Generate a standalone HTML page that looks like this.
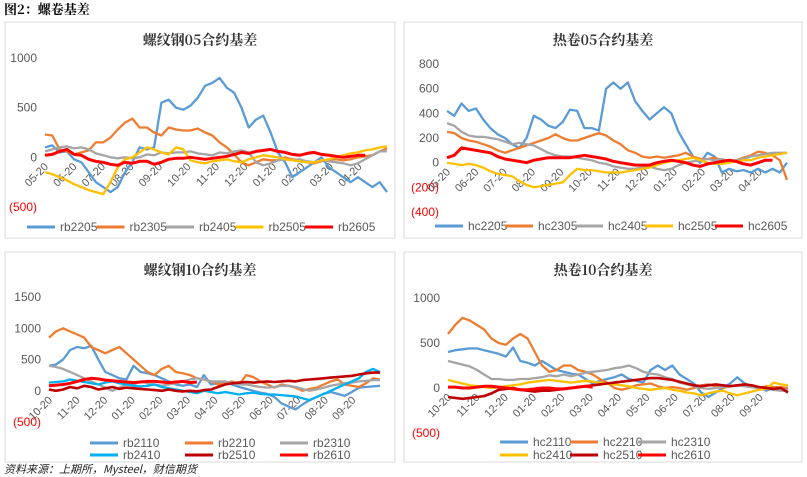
<!DOCTYPE html>
<html><head><meta charset="utf-8"><style>
body{margin:0;background:#fff;}
svg{display:block;font-family:"Liberation Sans","Noto Sans CJK SC",sans-serif;}
</style></head><body>
<svg id="c" width="807" height="477" viewBox="0 0 807 477">
<text x="4" y="14" font-size="13" font-weight="bold" fill="#000" font-family="'Noto Serif CJK SC','Noto Sans CJK SC',serif">图2：螺卷基差</text>
<text x="4" y="473" font-size="11" font-style="italic" fill="#222" font-family="'Noto Sans CJK SC',sans-serif">资料来源：上期所，Mysteel，财信期货</text>
</svg>
<script>
const monthsA=["05-20","06-20","07-20","08-20","09-20","10-20","11-20","12-20","01-20","02-20","03-20","04-20"];
const monthsB=["10-20","11-20","12-20","01-20","02-20","03-20","04-20","05-20","06-20","07-20","08-20","09-20"];
const rb2205=[100,120,50,60,-20,-50,-150,-250,-300,-350,-300,-150,-50,100,80,100,550,580,500,480,520,600,720,750,800,700,650,500,300,380,420,250,50,-50,-200,-150,-100,-50,0,-100,-150,-200,-250,-200,-250,-300,-250,-350];
const rb2305=[230,220,80,60,30,50,70,150,150,200,280,350,390,300,300,250,220,300,280,270,270,290,250,220,150,100,30,-50,-80,-50,-20,-30,-30,0,-20,-30,-50,-60,-40,-20,-20,-30,-20,0,10,20,60,90];
const rb2405=[60,80,100,110,90,100,80,40,20,0,-10,0,-10,0,30,20,50,40,50,50,60,40,30,20,50,40,60,70,50,-50,-80,-60,-30,-20,-30,-20,-40,-50,-30,-40,-50,-60,-80,-60,-20,20,60,60];
const rb2505=[-150,-170,-200,-230,-270,-300,-330,-350,-370,-250,-100,-20,0,50,100,80,50,30,100,80,-30,-50,-60,-40,-30,-20,-40,-50,-20,0,20,10,0,-20,-30,-40,-50,-50,-30,-20,0,20,40,50,70,80,100,110];
const rb2605=[20,30,60,80,30,20,-20,-40,-50,-70,-80,-50,-60,-40,-40,-70,-50,-20,-10,-10,0,-10,-20,-10,0,10,30,50,40,60,70,80,60,50,30,20,40,50,30,20,10,0,10,20,20,null,null,null];
const hc2205=[420,380,480,420,440,350,280,230,200,150,120,200,380,350,300,280,330,430,420,280,280,260,600,650,600,650,500,420,350,400,450,400,250,150,50,0,80,50,-80,-50,-70,-60,-80,-50,-80,-50,-80,0];
const hc2305=[250,240,200,180,170,150,130,100,80,100,120,140,160,180,200,230,200,180,180,200,220,240,220,180,150,100,80,50,40,50,40,50,60,80,50,30,30,40,20,10,20,40,60,90,80,60,20,-140];
const hc2405=[320,300,250,220,210,210,200,190,170,150,160,150,140,110,80,60,50,50,40,30,20,0,-10,-30,-40,-50,-50,-40,-30,-50,-60,-50,-20,0,10,20,30,20,30,10,20,30,50,60,70,80,80,80];
const hc2505=[0,-10,-20,-10,-20,-40,-70,-90,-100,-110,-150,-180,-200,-190,-180,-170,-160,-100,-50,-60,-60,-70,-80,-80,-80,-70,-60,-50,-40,-20,0,10,20,30,40,20,0,-10,-10,0,10,20,20,40,50,60,70,80];
const hc2605=[40,60,120,110,100,90,80,50,30,20,10,0,20,30,40,40,40,40,50,60,50,40,30,10,0,-10,-20,-20,-20,0,10,20,10,0,-20,-30,-10,0,10,20,10,-10,-20,0,20,20,null,null];
const rb2110=[400,420,500,650,700,680,720,500,300,250,200,180,400,300,280,250,200,150,100,80,100,60,250,100,120,150,100,60,30,0,-30,-50,-100,-200,-250,-300,-220,-150,-100,-50,-20,-50,-80,-20,50,60,70,80];
const rb2210=[850,950,1000,950,900,850,700,650,600,650,700,600,500,400,300,250,350,400,300,280,250,200,180,150,100,120,150,100,250,220,150,100,50,100,80,50,0,30,50,100,150,180,100,80,60,120,200,180];
const rb2310=[400,380,350,300,250,200,150,100,50,0,50,100,100,150,120,100,80,100,120,150,180,200,180,150,150,150,120,100,100,80,60,50,60,80,80,60,30,0,20,50,80,100,120,130,150,160,170,170];
const rb2410=[130,140,150,180,160,140,120,100,130,150,120,100,80,70,80,100,60,40,20,0,-20,-40,0,-20,-40,-20,-40,-60,-40,-30,-50,-60,-60,-70,-80,-90,-120,-150,-100,-50,0,50,100,150,200,300,350,300];
const rb2510=[20,0,20,60,40,80,60,20,40,60,30,50,40,30,20,10,0,20,0,-10,0,-10,10,20,60,100,120,130,140,130,140,150,140,150,160,150,170,180,190,200,210,220,230,240,260,280,290,290];
const rb2610=[80,90,100,120,150,180,200,190,170,160,150,140,130,140,150,150,140,130,140,150,130,140,null,null,null,null,null,null,null,null,null,null,null,null,null,null,null,null,null,null,null,null,null,null,null,null,null,null];
const hc2110=[400,420,430,440,440,420,400,380,350,450,300,280,250,300,250,200,180,160,150,100,50,80,100,120,150,100,80,60,200,250,200,250,150,100,50,-50,-100,-50,0,50,120,50,20,0,-30,0,-20,0];
const hc2210=[600,700,780,750,700,650,550,500,480,550,600,550,400,250,180,200,250,250,200,180,150,100,60,0,-20,0,30,40,50,20,0,10,0,-20,0,30,40,20,0,20,30,20,10,0,20,10,10,0];
const hc2310=[300,280,260,240,200,150,100,100,90,90,100,100,110,120,140,130,150,130,150,170,180,190,200,220,230,250,220,180,160,150,120,100,60,40,20,0,-10,0,10,20,30,20,10,0,-10,-20,-30,-30];
const hc2410=[90,70,50,30,20,10,0,10,20,30,40,60,70,80,90,80,70,60,70,80,70,60,50,40,30,20,0,-10,-20,-10,0,-20,-30,-50,-60,-80,-60,-40,-30,-60,-80,-60,-40,-20,-10,60,40,30];
const hc2510=[-100,-110,-120,-110,-100,-90,-60,-20,-10,0,-20,-30,-40,-30,-30,-20,-10,0,10,20,30,40,50,60,70,80,90,100,110,110,100,90,70,50,30,20,30,40,30,20,30,40,30,10,0,-10,0,-50];
const hc2610=[10,10,0,0,10,20,20,10,0,-10,-20,-20,-10,0,0,-10,-10,0,10,20,10,null,null,null,null,null,null,null,null,null,null,null,null,null,null,null,null,null,null,null,null,null,null,null,null,null,null,null];
const ticksA=[1000,500,0,-500];
const ticksB=[800,600,400,200,0,-200,-400];
const ticksC=[1500,1000,500,0,-500];
const ticksD=[1000,500,0,-500];

const C={blue:"#5B9BD5",orange:"#ED7D31",gray:"#A5A5A5",yellow:"#FFC000",red:"#FF0000",dred:"#C00000",cyan:"#00B0F0"};
const svg=document.getElementById('c');
const NS="http://www.w3.org/2000/svg";
function mk(t,a,p){const e=document.createElementNS(NS,t);for(const k in a)e.setAttribute(k,a[k]);(p||svg).appendChild(e);return e;}
function fmt(v){return v<0?"("+(-v)+")":String(v);}

function panel(o){
  const g=mk('g',{});
  
  
  const b=mk('rect',{x:o.box[0],y:o.box[1],width:o.box[2],height:o.box[3],fill:"#fff",stroke:"#D9D9D9"},g);
  
  
  const t=mk('text',{x:o.box[0]+o.box[2]/2,y:o.box[1]+23,"text-anchor":"middle","font-size":14,"font-weight":"bold",fill:"#333","font-family":"'Noto Serif CJK SC','Noto Sans CJK SC',serif"},g);
  t.textContent=o.title;
  
  
  const ymax=o.ticks[0],ymin=o.ticks[o.ticks.length-1];
  const y=v=>o.yTop+(ymax-v)/(ymax-ymin)*(o.yBot-o.yTop);
  const x=i=>o.x0+i/47*(o.x1-o.x0);
  o.ticks.forEach(v=>{
    const tt=mk('text',{x:o.x0-8,y:y(v)+4,"text-anchor":"end","font-size":12,fill:v<0?"#FF0000":"#595959"},g);
    tt.textContent=fmt(v);
    
    
  });
  const y0=y(0);
  o.months.forEach((m,k)=>{
    const xx=o.x0+k*(o.x1-o.x0)/12+4;
    const tt=mk('text',{x:xx,y:y0+10,"text-anchor":"end","font-size":11,fill:"#595959",transform:`rotate(-45 ${xx} ${y0+10})`},g);
    tt.textContent=m;
    
    
  });
  o.series.forEach(s=>{
    let d="",pen=false;
    s.data.forEach((v,i)=>{ if(v===null){pen=false;return;} d+=(pen?"L":"M")+x(i).toFixed(1)+" "+y(v).toFixed(1);pen=true;});
    const p=mk('path',{d:d,fill:"none",stroke:s.color,"stroke-width":s.w||2.3,"stroke-linejoin":"round"},g);
    
    
  });
  o.series.forEach((s,i)=>{
    const [lx,ly]=o.leg(i);
    const l=mk('line',{x1:lx,y1:ly,x2:lx+28,y2:ly,stroke:s.color,"stroke-width":3},g);
    
    
    const tt=mk('text',{x:lx+33,y:ly+4,"font-size":12,fill:"#595959"},g);
    tt.textContent=s.label;
    
    
  });
}
panel({name:"rb05-basis-chart",title:"螺纹钢05合约基差",box:[5,22,390,216],ticks:ticksA,yTop:58,yBot:207,x0:45,x1:387,months:monthsA,
 series:[{label:"rb2205",data:rb2205,color:C.blue},{label:"rb2305",data:rb2305,color:C.orange},{label:"rb2405",data:rb2405,color:C.gray},{label:"rb2505",data:rb2505,color:C.yellow},{label:"rb2605",data:rb2605,color:C.red,w:3}],
 leg:i=>[27+i*69.5,227]});
panel({name:"hc05-basis-chart",title:"热卷05合约基差",box:[404,22,398,216],ticks:ticksB,yTop:64,yBot:212,x0:447,x1:787,months:monthsA,
 series:[{label:"hc2205",data:hc2205,color:C.blue},{label:"hc2305",data:hc2305,color:C.orange},{label:"hc2405",data:hc2405,color:C.gray},{label:"hc2505",data:hc2505,color:C.yellow},{label:"hc2605",data:hc2605,color:C.red,w:3}],
 leg:i=>[435+i*70,226]});
panel({name:"rb10-basis-chart",title:"螺纹钢10合约基差",box:[5,252,390,210],ticks:ticksC,yTop:297,yBot:422,x0:49,x1:380,months:monthsB,
 series:[{label:"rb2110",data:rb2110,color:C.blue},{label:"rb2210",data:rb2210,color:C.orange},{label:"rb2310",data:rb2310,color:C.gray},{label:"rb2410",data:rb2410,color:C.cyan},{label:"rb2510",data:rb2510,color:C.dred,w:2.6},{label:"rb2610",data:rb2610,color:C.red,w:3}],
 leg:i=>[[90,185,280][i%3],443+Math.floor(i/3)*12]});
panel({name:"hc10-basis-chart",title:"热卷10合约基差",box:[404,252,398,210],ticks:ticksD,yTop:298,yBot:433,x0:448,x1:788,months:monthsB,
 series:[{label:"hc2110",data:hc2110,color:C.blue},{label:"hc2210",data:hc2210,color:C.orange},{label:"hc2310",data:hc2310,color:C.gray},{label:"hc2410",data:hc2410,color:C.yellow},{label:"hc2510",data:hc2510,color:C.dred,w:2.6},{label:"hc2610",data:hc2610,color:C.red,w:3}],
 leg:i=>[[500,570,638][i%3],442+Math.floor(i/3)*13]});
</script>
</body></html>
